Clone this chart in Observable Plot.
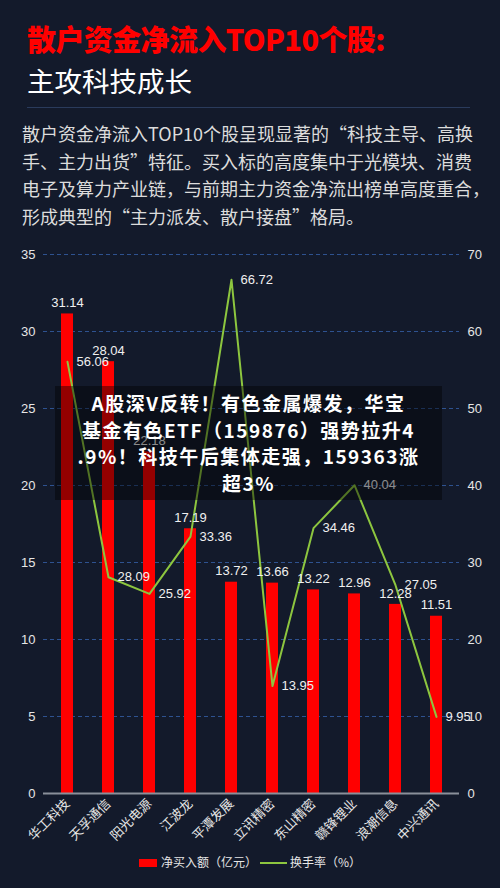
<!DOCTYPE html>
<html>
<head>
<meta charset="utf-8">
<script src="https://cdn.jsdelivr.net/npm/d3@7"></script>
<script src="https://cdn.jsdelivr.net/npm/@observablehq/plot@0.6"></script>
<style>
  html, body { margin:0; padding:0; }
  body { width:500px; height:888px; background:#131a2b; position:relative; overflow:hidden;
         font-family:"Liberation Sans","Noto Sans CJK SC",sans-serif; }
  #title { position:absolute; left:27px; top:20px; font-size:29px; font-weight:900; color:#ff0000;
           font-family:"Noto Sans CJK SC",sans-serif; line-height:36px; letter-spacing:-0.6px; white-space:nowrap; }
  #subtitle { position:absolute; left:27px; top:62px; font-size:27.5px; color:#ffffff;
           font-family:"Noto Sans CJK SC",sans-serif; line-height:36px; white-space:nowrap; }
  #sep { position:absolute; left:27px; top:107px; width:443px; height:1px; background:#2a3b5c; }
  #para { position:absolute; left:22px; top:120px; font-size:18px; color:#dcdcdc;
          font-family:"Noto Sans CJK SC",sans-serif; line-height:27.5px; white-space:nowrap; }
  #chart { position:absolute; left:0; top:240px; }
  #legend { position:absolute; left:0; top:854px; width:500px; text-align:center; font-size:12px; color:#e6e6e6;
            font-family:"Noto Sans CJK SC",sans-serif; white-space:nowrap; line-height:16px; }
  .sw { display:inline-block; vertical-align:middle; position:relative; top:-1px; }
  #overlay { position:absolute; left:55px; top:386px; width:387px; height:114px; background:rgba(0,0,0,0.42);
             color:#fff; font-family:"Noto Sans CJK SC",sans-serif; font-weight:bold; font-size:19px; letter-spacing:1.5px;
             text-align:center; line-height:26.5px; padding-top:4px; box-sizing:border-box; white-space:nowrap; }
</style>
</head>
<body>
<div id="title">散户资金净流入TOP10个股:</div>
<div id="subtitle">主攻科技成长</div>
<div id="sep"></div>
<div id="para">散户资金净流入TOP10个股呈现显著的“科技主导、高换<br>手、主力出货”特征。买入标的高度集中于光模块、消费<br>电子及算力产业链，与前期主力资金净流出榜单高度重合，<br>形成典型的“主力派发、散户接盘”格局。</div>
<div id="chart"></div>
<div id="legend"><span class="sw" style="width:18px;height:8px;background:#ff0000;margin-right:4px;"></span>净买入额（亿元）<span class="sw" style="width:27px;height:2px;background:#8dc63f;margin:0 3px;"></span>换手率（%）</div>
<div id="overlay">A股深V反转！有色金属爆发，华宝<br>基金有色ETF（159876）强势拉升4<br>.9%！科技午后集体走强，159363涨<br>超3%</div>
<script>
const names = ["华工科技","天孚通信","阳光电源","江波龙","平潭发展","立讯精密","东山精密","赣锋锂业","浪潮信息","中兴通讯"];
const netBuy = [31.14,28.04,22.18,17.19,13.72,13.66,13.22,12.96,12.28,11.51];
const turnover = [56.06,28.09,25.92,33.36,66.72,13.95,34.46,40.04,27.05,9.95];
const leftTicks = [0,5,10,15,20,25,30,35];
const rightTicks = [0,10,20,30,40,50,60,70];

const data = names.map((name, i) => ({name, net: netBuy[i], turn: turnover[i]}));
const ratio = 35 / 70;

const chart = Plot.plot({
  width: 500,
  height: 610,
  marginTop: 14,
  marginBottom: 57,
  marginLeft: 43,
  marginRight: 41,
  style: {background: "transparent", color: "#e6e6e6", fontSize: "13px", fontFamily: "Liberation Sans, Noto Sans CJK SC, sans-serif", overflow: "visible"},
  x: {domain: names, paddingInner: 0.71, paddingOuter: 0.355, label: null},
  y: {domain: [0, 35], label: null},
  marks: [
    Plot.gridY(leftTicks.slice(1), {stroke: "#2e5290", strokeOpacity: 1, strokeDasharray: "4,3"}),
    Plot.barY(data, {x: "name", y: "net", fill: "#ff0000"}),
    Plot.ruleY([0], {stroke: "#8a8f9a", strokeWidth: 2}),
    Plot.line(data, {x: "name", y: d => d.turn * ratio, stroke: "#8dc63f", strokeWidth: 2}),
    Plot.text(data, {x: "name", y: "net", text: d => d.net.toFixed(2), dy: -11, fill: "#f0f0f0", fontSize: 13}),
    Plot.text(data, {x: "name", y: d => d.turn * ratio, text: d => d.turn.toFixed(2), dx: 9, textAnchor: "start", fill: "#f0f0f0", fontSize: 13}),
    Plot.axisY(leftTicks, {anchor: "left", tickSize: 0, tickPadding: 8, label: null, fontSize: 13}),
    Plot.axisY(rightTicks.map(d => d * ratio), {anchor: "right", tickSize: 0, tickPadding: 8, label: null, tickFormat: d => String(Math.round(d / ratio)), fontSize: 13}),
    Plot.axisX({tickRotate: -45, tickSize: 0, tickPadding: 8, label: null, fontSize: 13, fontFamily: "Noto Sans CJK SC, sans-serif"})
  ]
});
document.getElementById("chart").appendChild(chart);
</script>
</body>
</html>
